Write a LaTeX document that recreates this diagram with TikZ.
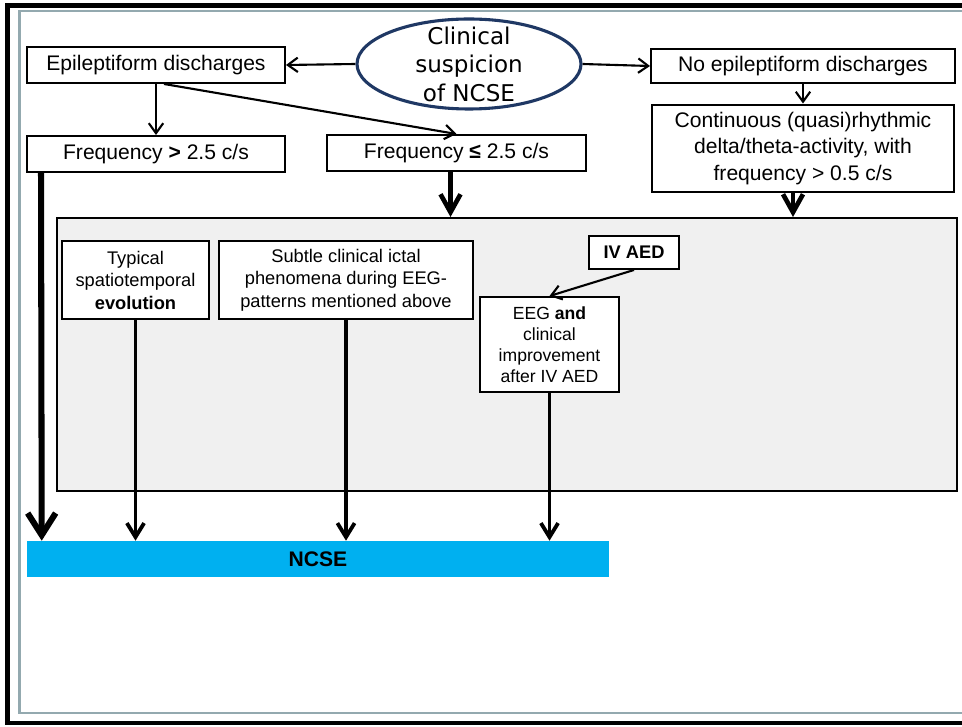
\documentclass[tikz,border=0pt]{standalone}
\usepackage{fontspec}
\setmainfont{Liberation Sans}
\newfontfamily\ovalfont{DejaVu Sans}
\usetikzlibrary{arrows.meta, shapes.geometric}
\definecolor{ovalblue}{RGB}{31,56,100}
\definecolor{framegray}{RGB}{147,169,175}
\definecolor{panelgray}{RGB}{240,240,240}
\definecolor{ncseblue}{RGB}{0,176,240}

\begin{document}
\begin{tikzpicture}[
  >={Straight Barb[length=2.5mm, width=3.6mm]},
  every node/.style={font=\fontsize{15}{19}\selectfont, align=center, inner sep=2pt},
  box/.style={draw=black, line width=1.4pt, fill=white, minimum height=0.9cm},
  sub/.style={box, font=\fontsize{13}{16}\selectfont},
  oval/.style={ellipse, draw=ovalblue, line width=2.2pt, fill=white, minimum width=5.6cm,
               minimum height=2.25cm, inner xsep=0pt, inner ysep=-3mm,
               font=\ovalfont\fontsize{16.4}{20.3}\selectfont},
  thin/.style={->, line width=1.5pt},
  mid/.style={line width=2.7pt, -{Straight Barb[length=3.5mm, width=4.3mm]}},
  wide/.style={line width=3.3pt, -{Straight Barb[length=4.5mm, width=5mm]}},
  heavy/.style={line width=4.3pt, -{Straight Barb[length=5.5mm, width=7mm]}}
]
\useasboundingbox (0,0) rectangle (24.05,18.15);
\draw[line width=3.5pt] (24.5,0.075) -- (0.1875,0.075) -- (0.1875,18.0125) -- (24.5,18.0125);
\draw[framegray, line width=1.9pt] (24.5,0.325) -- (0.4875,0.325) -- (0.4875,17.875) -- (24.5,17.875);

\node[oval] (suspect) at (11.725,16.55) {Clinical\\suspicion\\of NCSE};
\node[box, minimum width=6.45cm] (epi) at (3.9,16.525) {Epileptiform discharges};
\node[box, minimum width=7.6cm, minimum height=0.85cm] (noepi) at (20.075,16.5) {No epileptiform discharges};
\node[box, minimum width=6.45cm] (fhigh) at (3.9,14.3) {Frequency \textbf{>} 2.5 c/s};
\node[box, minimum width=6.475cm] (flow) at (11.4125,14.325) {Frequency \textbf{≤} 2.5 c/s};
\node[box, line width=2.1pt, minimum width=7.55cm, minimum height=2.175cm] (rhythm) at (20.075,14.4375)
  {Continuous (quasi)rhythmic\\delta/theta-activity, with\\frequency > 0.5 c/s};
\node[draw=black, line width=1.4pt, fill=panelgray, minimum width=22.5cm, minimum height=6.825cm] (panel) at (12.675,9.2875) {};
\node[sub, minimum width=3.675cm, minimum height=1.95cm] (typical) at (3.3875,11.15) {Typical\\spatiotemporal\\\textbf{evolution}};
\node[sub, minimum width=6.35cm, minimum height=1.95cm] (subtle) at (8.65,11.15) {Subtle clinical ictal\\phenomena during EEG-\\patterns mentioned above};
\node[sub, minimum width=2.25cm, minimum height=0.825cm] (ivaed) at (15.85,11.8375) {\textbf{IV AED}};
\node[sub, font=\fontsize{12.5}{15}\selectfont, minimum width=3.475cm, minimum height=2.375cm] (eeg) at (13.7375,9.5375)
  {EEG \textbf{and}\\clinical\\improvement\\after IV AED};
\node[fill=ncseblue, minimum width=14.55cm, minimum height=0.9cm, font=\bfseries\fontsize{15}{19}\selectfont] (ncse) at (7.95,4.175) {NCSE};

\draw[thin] (suspect.west) -- (epi.east);
\draw[thin] (suspect.east) -- (noepi.west);
\draw[thin] (epi.south) -- (fhigh.north);
\draw[thin] ([xshift=2mm]epi.south) -- (flow.north);
\draw[thin] (noepi.south) -- (rhythm.north);
\draw[wide] ([xshift=-1.5mm]flow.south) -- ([xshift=-1.5mm]flow.south |- panel.north);
\draw[wide] ([xshift=-2.5mm]rhythm.south) -- ([xshift=-2.5mm]rhythm.south |- panel.north);
\draw[heavy] ([xshift=3.75mm]fhigh.south west) -- ([xshift=3.75mm]ncse.north west);
\draw[mid] (typical.south) -- (typical.south |- ncse.north);
\draw[mid] (subtle.south) -- (subtle.south |- ncse.north);
\draw[thin] (ivaed.south) -- (eeg.north);
\draw[mid] (eeg.south) -- (eeg.south |- ncse.north);
\end{tikzpicture}
\end{document}
